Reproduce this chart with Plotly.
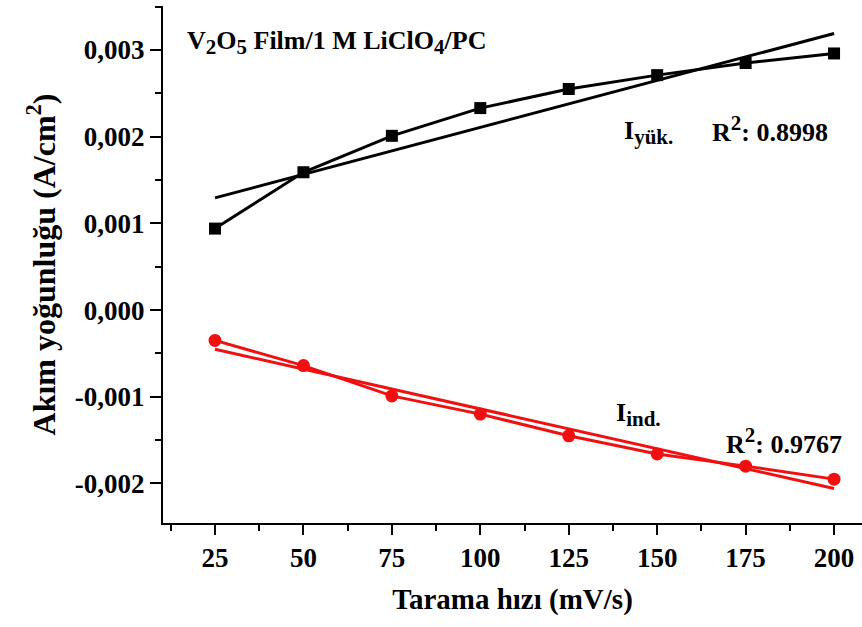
import numpy as np
import plotly.graph_objects as go

# ---- data ----
scan_rate = [25, 50, 75, 100, 125, 150, 175, 200]            # mV/s
i_yuk = [0.00094, 0.00159, 0.00201, 0.00233, 0.00255, 0.00271, 0.00285, 0.00296]
i_ind = [-0.00035, -0.00064, -0.00099, -0.00120, -0.00145, -0.00166, -0.00180, -0.00195]

x_tick_vals = [25, 50, 75, 100, 125, 150, 175, 200]
x_tick_labels = ["25", "50", "75", "100", "125", "150", "175", "200"]
y_tick_vals = [-0.002, -0.001, 0.0, 0.001, 0.002, 0.003]
y_tick_labels = ["-0,002", "-0,001", "0,000", "0,001", "0,002", "0,003"]

SUB = '<span style="font-size:21px">%s</span>'
title_text = ("V<sub>" + SUB % "2" + "</sub>O<sub>" + SUB % "5" + "</sub> Film/1 M LiClO<sub>"
              + SUB % "4" + "</sub>/PC")
label_yuk = "I<sub>" + SUB % "yük." + "</sub>"
label_ind = "I<sub>" + SUB % "ind." + "</sub>"
r2_yuk = "R<sup>" + SUB % "2" + "</sup>: 0.8998"
r2_ind = "R<sup>" + SUB % "2" + "</sup>: 0.9767"

BLACK = "#000000"
RED = "#f01010"
FONT = "Liberation Serif"

x = np.array(scan_rate, dtype=float)


def linear_fit(yvals):
    slope, intercept = np.polyfit(x, np.array(yvals, dtype=float), 1)
    fx = np.array([x[0], x[-1]])
    return fx, slope * fx + intercept


fig = go.Figure()

fx, fy = linear_fit(i_yuk)
fig.add_trace(go.Scatter(x=fx, y=fy, mode="lines", line=dict(color=BLACK, width=3),
                         showlegend=False, hoverinfo="skip"))
fig.add_trace(go.Scatter(x=scan_rate, y=i_yuk, mode="lines+markers",
                         line=dict(color=BLACK, width=3),
                         marker=dict(symbol="square", size=12, color=BLACK),
                         showlegend=False))

fx, fy = linear_fit(i_ind)
fig.add_trace(go.Scatter(x=fx, y=fy, mode="lines", line=dict(color=RED, width=3),
                         showlegend=False, hoverinfo="skip"))
fig.add_trace(go.Scatter(x=scan_rate, y=i_ind, mode="lines+markers",
                         line=dict(color=RED, width=3),
                         marker=dict(symbol="circle", size=13, color=RED),
                         showlegend=False))

ann_font = dict(family=FONT, size=26, color="black")
annotations = [
    dict(text="<b>" + title_text + "</b>", x=0.0315, y=0.930, xanchor="left", yanchor="middle"),
    dict(text="<b>" + label_yuk + "</b>", x=0.657, y=0.755, xanchor="left", yanchor="middle"),
    dict(text="<b>" + r2_yuk + "</b>", x=0.783, y=0.762, xanchor="left", yanchor="middle"),
    dict(text="<b>" + label_ind + "</b>", x=0.645, y=0.210, xanchor="left", yanchor="middle"),
    dict(text="<b>" + r2_ind + "</b>", x=0.802, y=0.158, xanchor="left", yanchor="middle"),
]
for a in annotations:
    a.update(xref="paper", yref="paper", showarrow=False, font=ann_font)

fig.update_layout(
    width=862, height=627,
    margin=dict(l=163, r=0, t=6, b=104),
    plot_bgcolor="white", paper_bgcolor="white",
    font=dict(family=FONT, color="black"),
    annotations=annotations,
    xaxis=dict(
        range=[10.3, 207.9],
        tickmode="array", tickvals=x_tick_vals, ticktext=["<b>%s</b>" % t for t in x_tick_labels],
        tickfont=dict(family=FONT, size=27, color="black"),
        ticks="outside", ticklen=10, tickwidth=2, tickcolor="black",
        minor=dict(dtick=12.5, tick0=0, ticks="outside", ticklen=6, tickwidth=2, tickcolor="black"),
        showline=True, linecolor="black", linewidth=2,
        showgrid=False, zeroline=False,
        title=dict(text="<b>Tarama hızı (mV/s)</b>", font=dict(family=FONT, size=29, color="black"),
                   standoff=16),
    ),
    yaxis=dict(
        range=[-0.002456, 0.0035075],
        tickmode="array", tickvals=y_tick_vals, ticktext=["<b>%s</b>" % t for t in y_tick_labels],
        tickfont=dict(family=FONT, size=27, color="black"),
        ticks="outside", ticklen=11, tickwidth=2, tickcolor="black",
        minor=dict(dtick=0.0005, tick0=0, ticks="outside", ticklen=6, tickwidth=2, tickcolor="black"),
        showline=True, linecolor="black", linewidth=2,
        showgrid=False, zeroline=False,
        title=dict(text="<b>Akım yoğunluğu (A/cm<sup>2</sup>)</b>",
                   font=dict(family=FONT, size=32, color="black"), standoff=10),
    ),
)

fig.write_html("out.html")
